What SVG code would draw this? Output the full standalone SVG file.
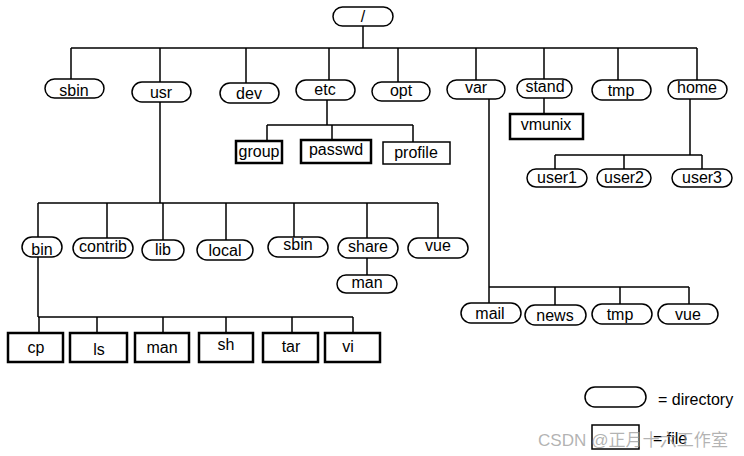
<svg xmlns="http://www.w3.org/2000/svg" width="744" height="456" viewBox="0 0 744 456">
<style>
.d{fill:#fff;stroke:#000;stroke-width:1.5}
.f{fill:#fff;stroke:#000;stroke-width:1.5}
.fb{fill:#fff;stroke:#000;stroke-width:2.5}
.t{font-family:"Liberation Sans",Arial,sans-serif;font-size:16px;fill:#000;text-anchor:middle}
.l{font-family:"Liberation Sans",Arial,sans-serif;font-size:16px;fill:#000}
#connectors path{fill:none;stroke:#000;stroke-width:1.5}
</style>
<rect width="744" height="456" fill="#fff"/>
<g id="connectors">
<path d="M363 26V48M71 48H697M71 48V79M160 48V82M246 48V83M329 48V80M398 48V82M476 48V80M544 48V79M618 48V80M697 48V80"/>
<path d="M327 100V125M267 125H413M267 125V141M332 125V140M413 125V142"/>
<path d="M544 98V114"/>
<path d="M690 99V155M555 155H702M555 155V169M624 155V169M702 155V169"/>
<path d="M160 102V203M38 203H438M38 203V237M107 203V238M163 203V240M226 203V240M294 203V237M367 203V238M438 203V238"/>
<path d="M367 258V275"/>
<path d="M38 257V317M38 317H353M39 317V333M97 317V333M163 317V333M226 317V333M292 317V333M353 317V333"/>
<path d="M489 99V287M489 287H689M489 287V303M555 287V305M620 287V304M689 287V304"/>
</g>
<g id="root"><rect class="d" x="333" y="7" width="60" height="19" rx="9.5"/><text class="t" x="363" y="22">/</text></g>
<g id="sbin"><rect class="d" x="45" y="79" width="59" height="19" rx="9.5"/><text class="t" x="74" y="96">sbin</text></g>
<g id="usr"><rect class="d" x="132" y="82" width="59" height="20" rx="10"/><text class="t" x="161" y="98">usr</text></g>
<g id="dev"><rect class="d" x="220" y="83" width="59" height="20" rx="10"/><text class="t" x="249" y="99">dev</text></g>
<g id="etc"><rect class="d" x="296" y="80" width="59" height="20" rx="10"/><text class="t" x="325" y="95">etc</text></g>
<g id="opt"><rect class="d" x="372" y="82" width="58" height="19" rx="9.5"/><text class="t" x="401" y="96">opt</text></g>
<g id="var"><rect class="d" x="447" y="80" width="58" height="19" rx="9.5"/><text class="t" x="476" y="93">var</text></g>
<g id="stand"><rect class="d" x="517" y="79" width="55" height="19" rx="9.5"/><text class="t" x="545" y="92">stand</text></g>
<g id="tmp"><rect class="d" x="592" y="80" width="59" height="20" rx="10"/><text class="t" x="621" y="96">tmp</text></g>
<g id="home"><rect class="d" x="668" y="80" width="59" height="19" rx="9.5"/><text class="t" x="697" y="93">home</text></g>
<g id="group"><rect class="fb" x="236" y="141" width="46" height="22"/><text class="t" x="259" y="157">group</text></g>
<g id="passwd"><rect class="fb" x="301" y="140" width="70" height="23"/><text class="t" x="336" y="155">passwd</text></g>
<g id="profile"><rect class="f" x="383" y="142" width="67" height="22"/><text class="t" x="416" y="158">profile</text></g>
<g id="vmunix"><rect class="fb" x="510" y="114" width="73" height="25"/><text class="t" x="546" y="130">vmunix</text></g>
<g id="user1"><rect class="d" x="527" y="169" width="60" height="18" rx="9"/><text class="t" x="557" y="183">user1</text></g>
<g id="user2"><rect class="d" x="597" y="169" width="54" height="18" rx="9"/><text class="t" x="624" y="183">user2</text></g>
<g id="user3"><rect class="d" x="672" y="169" width="60" height="18" rx="9"/><text class="t" x="702" y="183">user3</text></g>
<g id="bin"><rect class="d" x="22" y="237" width="40" height="20" rx="10"/><text class="t" x="42" y="255">bin</text></g>
<g id="contrib"><rect class="d" x="73" y="238" width="60" height="20" rx="10"/><text class="t" x="103" y="252">contrib</text></g>
<g id="lib"><rect class="d" x="142" y="240" width="42" height="20" rx="10"/><text class="t" x="163" y="255">lib</text></g>
<g id="local"><rect class="d" x="197" y="240" width="56" height="20" rx="10"/><text class="t" x="225" y="256">local</text></g>
<g id="usr-sbin"><rect class="d" x="268" y="237" width="60" height="20" rx="10"/><text class="t" x="298" y="250">sbin</text></g>
<g id="share"><rect class="d" x="338" y="238" width="60" height="20" rx="10"/><text class="t" x="368" y="252">share</text></g>
<g id="usr-vue"><rect class="d" x="408" y="238" width="60" height="20" rx="10"/><text class="t" x="438" y="251">vue</text></g>
<g id="share-man"><rect class="d" x="337" y="275" width="60" height="18" rx="9"/><text class="t" x="367" y="288">man</text></g>
<g id="cp"><rect class="fb" x="8" y="333" width="55" height="29"/><text class="t" x="36" y="353">cp</text></g>
<g id="ls"><rect class="fb" x="70" y="333" width="57" height="29"/><text class="t" x="99" y="355">ls</text></g>
<g id="bin-man"><rect class="fb" x="135" y="333" width="54" height="29"/><text class="t" x="162" y="353">man</text></g>
<g id="sh"><rect class="fb" x="199" y="333" width="54" height="29"/><text class="t" x="226" y="350">sh</text></g>
<g id="tar"><rect class="fb" x="263" y="333" width="55" height="29"/><text class="t" x="291" y="352">tar</text></g>
<g id="vi"><rect class="fb" x="325" y="333" width="55" height="29"/><text class="t" x="348" y="352">vi</text></g>
<g id="mail"><rect class="d" x="461" y="303" width="60" height="20" rx="10"/><text class="t" x="490" y="319">mail</text></g>
<g id="news"><rect class="d" x="525" y="305" width="61" height="20" rx="10"/><text class="t" x="555" y="321">news</text></g>
<g id="var-tmp"><rect class="d" x="592" y="304" width="60" height="20" rx="10"/><text class="t" x="620" y="320">tmp</text></g>
<g id="var-vue"><rect class="d" x="658" y="304" width="60" height="20" rx="10"/><text class="t" x="688" y="320">vue</text></g>
<g id="legend">
<rect class="d" x="585" y="387" width="61" height="20" rx="10"/>
<text class="l" x="658" y="405">= directory</text>
<rect class="f" x="592" y="425" width="47" height="24"/>
<text class="l" x="653" y="444">= file</text>
</g>
<text x="538" y="446" font-family="Liberation Sans,'Noto Sans CJK SC',sans-serif" font-size="17" fill="#9a9a9a" fill-opacity="0.75" textLength="190" lengthAdjust="spacingAndGlyphs">CSDN @正月十六工作室</text>
</svg>
